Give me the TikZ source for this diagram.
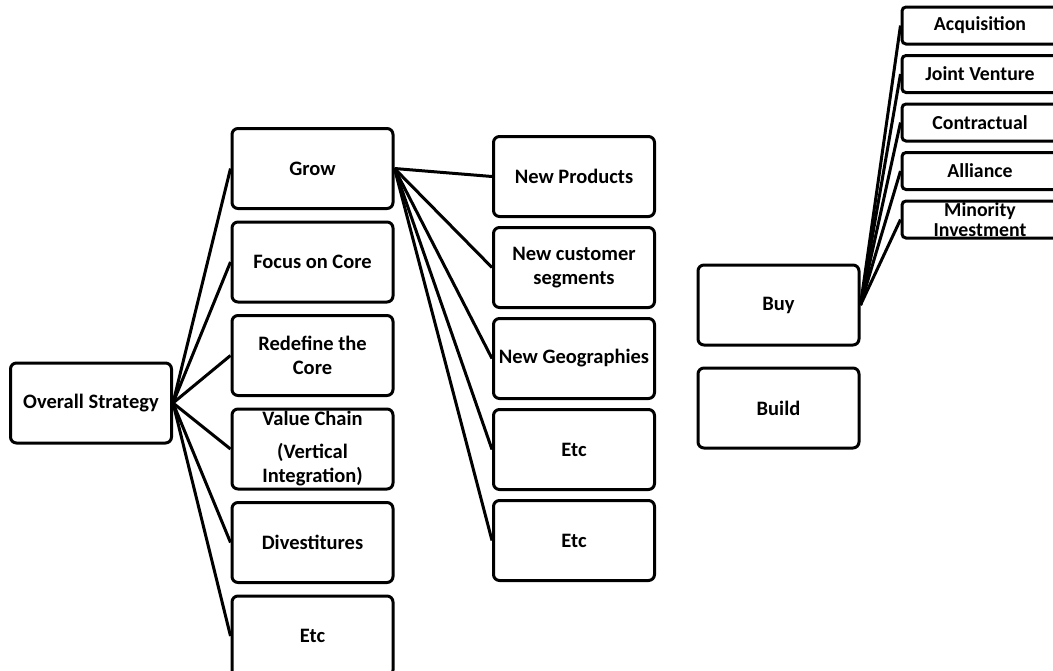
\documentclass[tikz,border=0pt]{standalone}
\usepackage{fontspec}
\setmainfont{Carlito}
\usetikzlibrary{positioning}
\tikzstyle{aL}=[every edge/.style={draw,line width=3pt}]
\tikzstyle{Abox}=[draw,line width=3pt,rounded corners=6pt,minimum width=161pt,
                minimum height=80pt,inner sep=0,align=center,node distance=10.5pt,
                font=\fontsize{20.5}{24}\selectfont\bfseries]
\tikzstyle{Sbox}=[Abox,rounded corners=4pt,minimum width=156pt,minimum height=37pt,
                node distance=8.5pt,font=\fontsize{19.8}{20.5}\selectfont\bfseries]
\newcommand{\boxbelow}[3]{\node[Abox,below=of #1] (#2) {#3};}
\newcommand{\optbelow}[3]{\node[Sbox,below=of #1] (#2) {#3};}
\begin{document}
\begin{tikzpicture}[aL,x=1pt,y=-1pt]
  \clip (0,0) rectangle (1053,670);
  \node[Abox] (os) at (91,403) {Overall Strategy};
  % strategy column
  \node[Abox] (grow) at (312.5,168.5) {Grow};
  \boxbelow{grow}{focus}{Focus on Core};
  \boxbelow{focus}{redef}{Redefine the\\Core};
  \boxbelow{redef}{chain}{Value Chain\\[9pt](Vertical\\Integration)};
  \boxbelow{chain}{divest}{Divestitures};
  \boxbelow{divest}{etcA}{Etc};
  \path (os.east) edge (grow.west) edge (focus.west) edge (redef.west)
        edge (chain.west) edge (divest.west) edge (etcA.west);
  % growth column
  \node[Abox,node distance=8pt] (prod) at (574,176.5) {New Products};
  \node[Abox,node distance=8pt,below=of prod] (segm) {New customer\\segments};
  \node[Abox,node distance=8pt,below=of segm] (geo) {New Geographies};
  \node[Abox,node distance=8pt,below=of geo] (etcB) {Etc};
  \node[Abox,node distance=8pt,below=of etcB] (etcC) {Etc};
  \path (grow.east) edge (prod.west) edge (segm.west) edge (geo.west)
        edge (etcB.west) edge (etcC.west);
  % buy or build
  \node[Abox] (buy) at (778.5,305) {Buy};
  \node[Abox,below=20pt of buy] (build) {Build};
  \node[Sbox] (acq) at (980,25.5) {Acquisition};
  \optbelow{acq}{jv}{Joint Venture};
  \optbelow{jv}{contr}{Contractual};
  \optbelow{contr}{alli}{Alliance};
  \optbelow{alli}{minor}{Minority\\Investment};
  \path (buy.east) edge (acq.west) edge (jv.west) edge (contr.west)
        edge (alli.west) edge (minor.west);
\end{tikzpicture}
\end{document}
